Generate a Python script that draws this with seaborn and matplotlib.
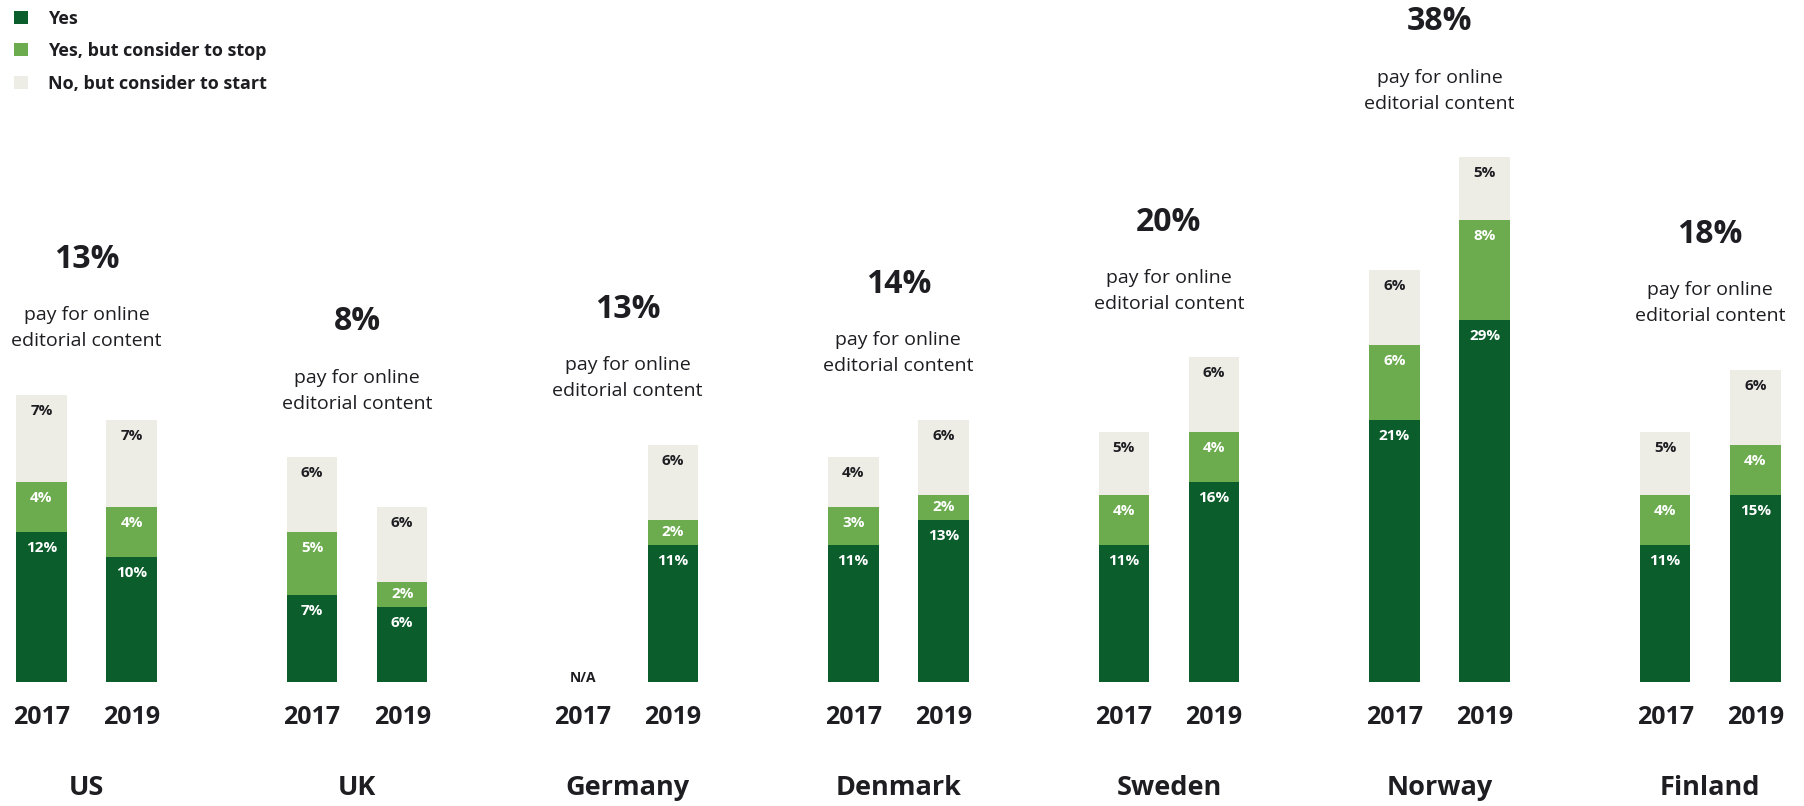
import numpy as np
import pandas as pd
import matplotlib
matplotlib.use("Agg")
import matplotlib.pyplot as plt
from matplotlib.patches import Patch
import seaborn as sns

# ---- data ----
countries = ["US", "UK", "Germany", "Denmark", "Sweden", "Norway", "Finland"]
years = ["2017", "2019"]
headline = ["13%", "8%", "13%", "14%", "20%", "38%", "18%"]
# shares per country, [2017, 2019]; None = not available
yes_vals = [[12, 10], [7, 6], [None, 11], [11, 13], [11, 16], [21, 29], [11, 15]]
stop_vals = [[4, 4], [5, 2], [None, 2], [3, 2], [4, 4], [6, 8], [4, 4]]
start_vals = [[7, 7], [6, 6], [None, 6], [4, 6], [5, 6], [6, 5], [5, 6]]
series_names = ["Yes", "Yes, but consider to stop", "No, but consider to start"]

# ---- style ----
C_YES = "#0b5e2c"
C_STOP = "#6cac4f"
C_START = "#edede6"
TXT = "#1d1d22"

sns.set_theme(style="white")
plt.rcParams["font.family"] = ["Open Sans", "DejaVu Sans"]

rows = []
for gi, c in enumerate(countries):
    for yi, yr in enumerate(years):
        if yes_vals[gi][yi] is None:
            continue
        y1 = yes_vals[gi][yi]
        y2 = stop_vals[gi][yi]
        y3 = start_vals[gi][yi]
        rows.append(dict(country=c, year=yr, pos=gi * 3 + yi,
                         yes=y1, stop=y2, start=y3,
                         cum_stop=y1 + y2, cum_all=y1 + y2 + y3))
df = pd.DataFrame(rows)

fig = plt.figure(figsize=(18.04, 8.06), dpi=100)
ax = fig.add_axes([0, 0, 1, 1])

common = dict(x="pos", native_scale=True, width=0.56, linewidth=0,
              errorbar=None, ax=ax, saturation=1)
sns.barplot(data=df, y="cum_all", color=C_START, **common)
sns.barplot(data=df, y="cum_stop", color=C_STOP, **common)
sns.barplot(data=df, y="yes", color=C_YES, **common)

ax.set_xlim(-0.459, 19.54)
ax.set_ylim(-9.92, 54.56)
ax.axis("off")

# segment value labels
for _, r in df.iterrows():
    segs = [(0, r["yes"], "white"),
            (r["yes"], r["stop"], "white"),
            (r["cum_stop"], r["start"], TXT)]
    for base, h, col in segs:
        top = base + h
        ty = top - min(1.3, h / 2)
        ax.text(r["pos"], ty, f"{int(h)}%", ha="center", va="center",
                color=col, fontsize=11, fontweight="bold")

# group annotations
for gi, c in enumerate(countries):
    center = gi * 3 + 0.5
    tops = [yes_vals[gi][k] + stop_vals[gi][k] + start_vals[gi][k]
            for k in range(2) if yes_vals[gi][k] is not None]
    tmax = max(tops)
    ax.text(center, tmax + 10.8, headline[gi], ha="center", va="center",
            fontsize=23, fontweight="bold", color=TXT)
    ax.text(center, tmax + 5.3, "pay for online\neditorial content",
            ha="center", va="center", fontsize=14, color=TXT,
            linespacing=1.55)
    for yi, yr in enumerate(years):
        ax.text(gi * 3 + yi, -2.85, yr, ha="center", va="center",
                fontsize=18, fontweight="bold", color=TXT)
        if yes_vals[gi][yi] is None:
            ax.text(gi * 3 + yi, 0.35, "N/A", ha="center", va="center",
                    fontsize=10, fontweight="bold", color=TXT)
    ax.text(center, -8.45, c, ha="center", va="center",
            fontsize=19.5, fontweight="bold", color=TXT)

handles = [Patch(facecolor=C_YES, edgecolor="none"),
           Patch(facecolor=C_STOP, edgecolor="none"),
           Patch(facecolor=C_START, edgecolor="none")]
leg = ax.legend(handles, series_names, loc="upper left",
                bbox_to_anchor=(0.004, 0.997), bbox_transform=fig.transFigure,
                frameon=False, fontsize=13, handlelength=0.75,
                handleheight=0.75, handletextpad=1.1, labelspacing=0.8,
                borderaxespad=0)
for t in leg.get_texts():
    t.set_fontweight("bold")
    t.set_color(TXT)

fig.savefig("out.png", dpi=100, facecolor="white")
